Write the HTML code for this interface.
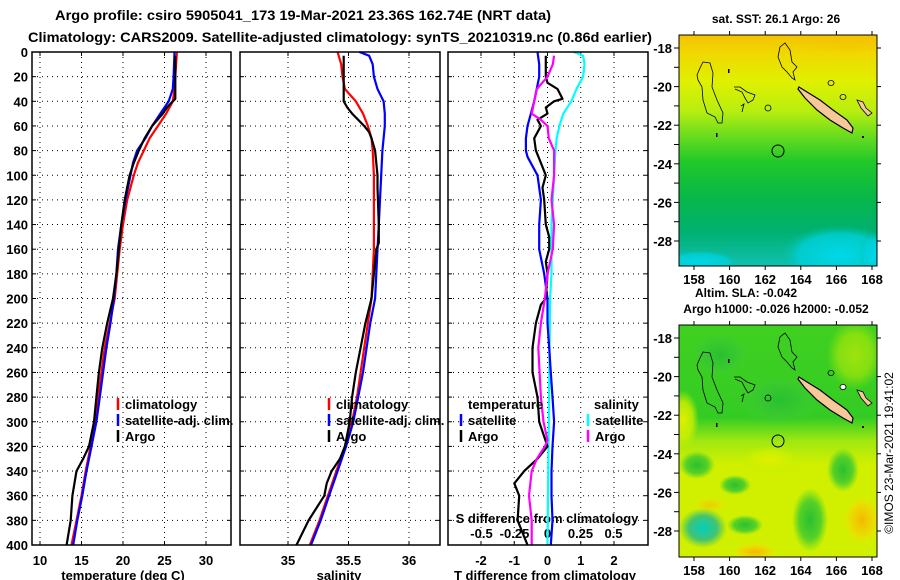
<!DOCTYPE html>
<html><head><meta charset="utf-8">
<style>
html,body{margin:0;padding:0;background:#fff;}
svg{display:block;font-family:"Liberation Sans",sans-serif;font-weight:bold;}
</style></head>
<body>
<svg id="fig" width="900" height="580" viewBox="0 0 900 580" xmlns="http://www.w3.org/2000/svg">
<defs>
  <linearGradient id="sstGrad" x1="0" y1="0" x2="0" y2="1">
    <stop offset="0" stop-color="#f6c200"/>
    <stop offset="0.08" stop-color="#f0d800"/>
    <stop offset="0.2" stop-color="#e0f000"/>
    <stop offset="0.33" stop-color="#b8ee10"/>
    <stop offset="0.45" stop-color="#60da20"/>
    <stop offset="0.55" stop-color="#20c828"/>
    <stop offset="0.7" stop-color="#08b848"/>
    <stop offset="0.85" stop-color="#00b070"/>
    <stop offset="1" stop-color="#10c0b0"/>
  </linearGradient>
  <linearGradient id="slaGrad" x1="0" y1="0" x2="0" y2="1">
    <stop offset="0" stop-color="#40d020"/>
    <stop offset="0.4" stop-color="#34cc24"/>
    <stop offset="0.5" stop-color="#a0e810"/>
    <stop offset="0.6" stop-color="#d0f000"/>
    <stop offset="1" stop-color="#d0f000"/>
  </linearGradient>
  <radialGradient id="cyanBlob"><stop offset="0" stop-color="#00d8e8"/><stop offset="0.7" stop-color="#00d0d8" stop-opacity="0.8"/><stop offset="1" stop-color="#00c0a0" stop-opacity="0"/></radialGradient>
  <radialGradient id="yelBlob"><stop offset="0" stop-color="#e0f000"/><stop offset="0.6" stop-color="#d0f000" stop-opacity="0.8"/><stop offset="1" stop-color="#c0f000" stop-opacity="0"/></radialGradient>
  <radialGradient id="orgBlob"><stop offset="0" stop-color="#f4b800"/><stop offset="0.6" stop-color="#f0d800" stop-opacity="0.8"/><stop offset="1" stop-color="#e0f000" stop-opacity="0"/></radialGradient>
  <radialGradient id="tealBlob"><stop offset="0" stop-color="#00d0c0"/><stop offset="0.6" stop-color="#20b890" stop-opacity="0.8"/><stop offset="1" stop-color="#30c060" stop-opacity="0"/></radialGradient>
  <radialGradient id="dgBlob"><stop offset="0" stop-color="#28c030"/><stop offset="0.6" stop-color="#38c830" stop-opacity="0.8"/><stop offset="1" stop-color="#40d030" stop-opacity="0"/></radialGradient>
  <radialGradient id="yellowTop"><stop offset="0" stop-color="#f4c400"/><stop offset="1" stop-color="#f4c400" stop-opacity="0"/></radialGradient>
</defs>

<text x="55" y="20" font-size="14" textLength="496" lengthAdjust="spacingAndGlyphs">Argo profile: csiro 5905041_173 19-Mar-2021 23.36S 162.74E (NRT data)</text>
<text x="28" y="42" font-size="14" textLength="624" lengthAdjust="spacingAndGlyphs">Climatology: CARS2009. Satellite-adjusted climatology: synTS_20210319.nc (0.86d earlier)</text>

<g id="panels"></g>

<!-- Map 1: SST -->
<text x="776" y="23" font-size="12" text-anchor="middle">sat. SST: 26.1 Argo: 26</text>
<g>
  <svg x="679" y="35" width="198" height="231" viewBox="679 35 198 231" overflow="hidden">
    <rect x="679" y="35" width="198" height="231" fill="url(#sstGrad)"/>
    <ellipse cx="850" cy="38" rx="60" ry="16" fill="url(#yellowTop)"/>
    <ellipse cx="840" cy="255" rx="60" ry="30" fill="url(#cyanBlob)"/>
    <ellipse cx="700" cy="262" rx="40" ry="12" fill="url(#cyanBlob)"/>
    <ellipse cx="875" cy="255" rx="16" ry="22" fill="url(#cyanBlob)"/>
    <g>
      <path d="M703,62 L710,63 L713,73 L712,87 L717,100 L723,113 L722,123 L718,123 L715,117 L707,113 L703,100 L702,87 L698,80 L697,75 L700,68 Z" fill="none" stroke="#000" stroke-width="0.8"/>
      <path d="M734,87 L740,87 L747,92 L755,95 L753,100 L748,103 L745,98 L742,92 L735,89" fill="none" stroke="#000" stroke-width="0.8"/>
      <path d="M741,106 L744,104 L742,112" fill="none" stroke="#000" stroke-width="0.8"/>
      <circle cx="768" cy="108" r="3" fill="none" stroke="#000" stroke-width="0.8"/>
      <path d="M780,47 L785,43 L790,50 L792,62 L797,67 L793,72 L795,80 L792,78 L787,72 L782,67 L778,57 Z" fill="none" stroke="#000" stroke-width="0.8"/>
      <path d="M799,87 L807,92 L820,100 L833,110 L847,120 L853,128 L852,133 L843,128 L830,120 L817,110 L805,98 L798,89 Z" fill="#f8c89a" stroke="#000" stroke-width="1.2"/>
      <ellipse cx="831" cy="83" rx="3" ry="2.5" fill="none" stroke="#000" stroke-width="0.8"/>
      <ellipse cx="843" cy="97" rx="3" ry="2.5" fill="none" stroke="#000" stroke-width="0.8"/>
      <path d="M857,100 L863,102 L866,108 L872,113 L868,116 L861,108 Z" fill="#f8c89a" stroke="#000" stroke-width="0.8"/>
      <rect x="728" y="69" width="1.5" height="4" fill="#000"/>
      <rect x="716" y="133" width="1.5" height="4" fill="#000"/>
      <rect x="862" y="136" width="2" height="2" fill="#000"/>
    </g>
    <circle cx="778" cy="151" r="6" fill="none" stroke="#000" stroke-width="1"/>
  </svg>
  <rect x="679" y="35" width="198" height="231" fill="none" stroke="#000" stroke-width="1"/>
</g>
<g id="map1axes"></g>

<text x="695" y="297" font-size="12">Altim. SLA: -0.042</text>
<text x="776" y="313" font-size="12" text-anchor="middle">Argo h1000: -0.026 h2000: -0.052</text>

<!-- Map 2: SLA -->
<g>
  <svg x="679" y="325" width="198" height="232" viewBox="679 325 198 232" overflow="hidden">
    <rect x="679" y="325" width="198" height="232" fill="url(#slaGrad)"/>
    <ellipse cx="855" cy="355" rx="28" ry="35" fill="url(#yelBlob)" opacity="0.6"/>
    <ellipse cx="683" cy="420" rx="16" ry="30" fill="url(#yelBlob)"/>
    <ellipse cx="720" cy="355" rx="30" ry="22" fill="url(#dgBlob)"/>
    <ellipse cx="780" cy="400" rx="40" ry="25" fill="url(#dgBlob)"/>
    <ellipse cx="697" cy="465" rx="18" ry="14" fill="url(#dgBlob)"/>
    <ellipse cx="735" cy="485" rx="16" ry="10" fill="url(#dgBlob)"/>
    <ellipse cx="745" cy="525" rx="18" ry="10" fill="url(#dgBlob)"/>
    <ellipse cx="810" cy="520" rx="18" ry="32" fill="url(#dgBlob)"/>
    <ellipse cx="843" cy="470" rx="16" ry="22" fill="url(#dgBlob)"/>
    <ellipse cx="770" cy="460" rx="30" ry="14" fill="url(#yelBlob)"/>
    <ellipse cx="862" cy="520" rx="20" ry="26" fill="url(#orgBlob)"/>
    <ellipse cx="755" cy="552" rx="24" ry="10" fill="url(#orgBlob)"/>
    <ellipse cx="710" cy="505" rx="18" ry="8" fill="url(#orgBlob)" opacity="0.6"/>
    <ellipse cx="703" cy="528" rx="24" ry="20" fill="url(#tealBlob)"/>
    <g transform="translate(0,290)">
      <path d="M703,62 L710,63 L713,73 L712,87 L717,100 L723,113 L722,123 L718,123 L715,117 L707,113 L703,100 L702,87 L698,80 L697,75 L700,68 Z" fill="none" stroke="#000" stroke-width="0.8"/>
      <path d="M734,87 L740,87 L747,92 L755,95 L753,100 L748,103 L745,98 L742,92 L735,89" fill="none" stroke="#000" stroke-width="0.8"/>
      <path d="M741,106 L744,104 L742,112" fill="none" stroke="#000" stroke-width="0.8"/>
      <circle cx="768" cy="108" r="3" fill="none" stroke="#000" stroke-width="0.8"/>
      <path d="M780,47 L785,43 L790,50 L792,62 L797,67 L793,72 L795,80 L792,78 L787,72 L782,67 L778,57 Z" fill="none" stroke="#000" stroke-width="0.8"/>
      <path d="M799,87 L807,92 L820,100 L833,110 L847,120 L853,128 L852,133 L843,128 L830,120 L817,110 L805,98 L798,89 Z" fill="#f8c89a" stroke="#000" stroke-width="1.2"/>
      <ellipse cx="831" cy="83" rx="3" ry="2.5" fill="none" stroke="#000" stroke-width="0.8"/>
      <ellipse cx="843" cy="97" rx="3" ry="2.5" fill="#fff" stroke="#000" stroke-width="0.8"/>
      <path d="M857,100 L863,102 L866,108 L872,113 L868,116 L861,108 Z" fill="#f8c89a" stroke="#000" stroke-width="0.8"/>
      <rect x="728" y="69" width="1.5" height="4" fill="#000"/>
      <rect x="716" y="133" width="1.5" height="4" fill="#000"/>
      <rect x="862" y="136" width="2" height="2" fill="#000"/>
    </g>
    <circle cx="778" cy="441" r="6" fill="none" stroke="#000" stroke-width="1"/>
  </svg>
  <rect x="679" y="325" width="198" height="232" fill="none" stroke="#000" stroke-width="1"/>
</g>
<g id="map2axes"></g>

<text transform="translate(893,453) rotate(-90)" font-size="12" font-weight="normal" text-anchor="middle">©IMOS 23-Mar-2021 19:41:02</text>

<script>
// ---------------- data ----------------
const depthTicks = [0,20,40,60,80,100,120,140,160,180,200,220,240,260,280,300,320,340,360,380,400];
const tempTicks = [10,15,20,25,30];
const salTicks = [35,35.5,36];
const salTickLabels = ["35","35.5","36"];
const tdiffTicks = [-2,-1,0,1,2];
const sdiffTicks = [-0.5,-0.25,0,0.25,0.5];
const sdiffTickLabels = ["-0.5","-0.25","0","0.25","0.5"];

const tClimDepth = [0,10,20,30,40,50,60,70,80,90,100,120,140,160,180,200,220,240,260,280,300,320,340,360,380,400];
const tClim = [26.5,26.4,26.3,26.2,26.0,25.2,24.2,23.2,22.5,21.8,21.3,20.5,20.0,19.6,19.3,19.0,18.4,17.8,17.4,17.0,16.6,16.1,15.5,15.0,14.4,13.8];
const tSatDepth = [0,20,30,40,50,60,70,80,90,100,120,140,160,180,200,220,240,260,280,300,320,340,360,380,400];
const tSat = [26.2,26.1,26.0,25.5,24.5,23.5,22.7,21.7,21.2,20.9,20.3,19.8,19.4,19.2,18.9,18.5,18.0,17.6,17.2,16.8,16.2,15.6,15.1,14.5,14.0];
const tArgoDepth = [3,20,38,40,45,50,60,70,80,90,100,120,140,160,180,200,220,240,260,280,300,320,330,340,360,380,400];
const tArgo = [26.3,26.3,26.3,26.0,25.3,24.8,23.5,22.6,21.9,21.3,20.8,20.2,19.8,19.5,19.2,18.8,18.1,17.5,17.1,16.8,16.5,15.9,15.2,14.4,13.9,13.7,13.2];

const sClimDepth = [0,10,20,30,40,50,60,70,80,100,160,180,200,220,240,260,280,300,320,340,360,380,400];
const sClim = [35.41,35.44,35.45,35.47,35.56,35.62,35.66,35.69,35.70,35.71,35.71,35.70,35.69,35.66,35.63,35.60,35.57,35.53,35.47,35.40,35.33,35.26,35.18];
const sSatDepth = [0,3,10,20,30,40,50,60,70,80,100,120,140,160,180,200,220,240,260,280,300,320,340,360,380,400];
const sSat = [35.59,35.67,35.70,35.71,35.74,35.79,35.80,35.80,35.79,35.78,35.77,35.76,35.75,35.74,35.73,35.72,35.68,35.65,35.62,35.58,35.54,35.48,35.41,35.34,35.27,35.19];
const sArgoDepth = [3,40,45,50,55,60,65,70,80,90,100,110,140,155,160,180,200,220,230,240,260,280,300,320,330,340,350,360,380,400];
const sArgo = [35.46,35.46,35.49,35.53,35.58,35.63,35.67,35.69,35.72,35.73,35.74,35.74,35.75,35.75,35.73,35.71,35.69,35.64,35.62,35.60,35.56,35.53,35.51,35.47,35.43,35.36,35.32,35.30,35.17,35.07];

const dTSatDepth = [0,10,20,40,50,60,70,80,85,100,110,120,140,160,180,200,220,240,260,280,300,320,340,360,380,400];
const dTSat = [-0.3,-0.25,-0.25,-0.4,-0.5,-0.6,-0.65,-0.65,-0.6,-0.3,-0.25,-0.2,-0.25,-0.25,-0.1,0,0,0.05,0.1,0.15,0.2,0.15,0.12,0.12,0.15,0.1];
const dTArgoDepth = [3,20,25,30,38,40,45,50,55,60,70,80,90,100,110,120,140,150,160,170,180,200,205,220,240,260,280,300,320,330,340,350,360,380,400];
const dTArgo = [-0.05,-0.05,0,0.3,0.45,0.2,-0.05,0,-0.3,-0.2,-0.4,-0.35,-0.2,-0.05,-0.15,-0.1,-0.05,0.05,0.05,-0.05,0,-0.05,-0.2,-0.35,-0.45,-0.45,-0.3,-0.25,0,-0.3,-0.7,-1.0,-0.85,-0.9,-0.6];
const dSSatDepth = [0,3,10,20,30,40,50,60,70,80,100,120,140,180,200,300,400];
const dSSat = [0.2,0.27,0.28,0.27,0.22,0.18,0.12,0.09,0.07,0.06,0.05,0.04,0.03,0.03,0.02,0.01,0.0];
const dSArgoDepth = [3,10,20,30,40,50,55,60,70,80,100,120,140,160,180,200,220,240,260,280,300,315,320,330,340,360,380,400];
const dSArgo = [0.05,0.04,0.0,-0.08,-0.1,-0.12,-0.05,0.0,0.01,0.05,0.05,0.03,0.05,0.04,0.0,-0.02,-0.05,-0.07,-0.06,-0.05,-0.03,0.0,-0.02,-0.08,-0.12,-0.14,-0.12,-0.12];

// ---------------- scales ----------------
const NS = "http://www.w3.org/2000/svg";
const Y0 = 52, Y1 = 545;
function yD(d){ return Y0 + d*(Y1-Y0)/400; }
function xT(t){ return 40 + (t-10)*(206-40)/20; }
function xS(s){ return 288 + (s-35)*(409-288)/1; }
function xDT(t){ return 547.5 + t*(614-481)/4; }
function xDS(s){ return 547.5 + s*132; }
function el(tag, attrs, parent){ const e=document.createElementNS(NS,tag); for(const k in attrs) e.setAttribute(k,attrs[k]); parent.appendChild(e); return e; }

const root = document.getElementById('panels');
const panels = [[32,231],[240,440],[448,648]];

const gridXs = [tempTicks.map(xT), salTicks.map(xS), tdiffTicks.map(xDT)];
panels.forEach((p,i)=>{
  const g = el('g',{},root);
  
  
  depthTicks.forEach(d=>{
    if(d>0 && d<400) el('line',{x1:p[0],x2:p[1],y1:yD(d),y2:yD(d),stroke:'#000','stroke-width':1,'stroke-dasharray':'1,4'},g);
    el('line',{x1:p[0],x2:p[0]+4,y1:yD(d),y2:yD(d),stroke:'#000'},g);
    el('line',{x1:p[1]-4,x2:p[1],y1:yD(d),y2:yD(d),stroke:'#000'},g);
  });
  gridXs[i].forEach(x=>{
    el('line',{x1:x,x2:x,y1:Y0,y2:Y1,stroke:'#000','stroke-width':1,'stroke-dasharray':'1,4'},g);
    el('line',{x1:x,x2:x,y1:Y1-4,y2:Y1,stroke:'#000'},g);
    el('line',{x1:x,x2:x,y1:Y0,y2:Y0+4,stroke:'#000'},g);
  });
});

const yl = el('g',{},root);


depthTicks.forEach(d=>{
  const t = el('text',{x:28,y:yD(d)+5,'font-size':13,'text-anchor':'end'},yl);
  t.textContent = d;
});

function xLabels(vals, labels, f, y, name){
  const g = el('g',{},root);
  
  
  vals.forEach((v,i)=>{ const t=el('text',{x:f(v),y:y,'font-size':13,'text-anchor':'middle'},g); t.textContent=labels[i]; });
}
xLabels(tempTicks, tempTicks.map(String), xT, 565, 'temperature-x-ticks');
xLabels(salTicks, salTickLabels, xS, 565, 'salinity-x-ticks');
xLabels(tdiffTicks, tdiffTicks.map(String), xDT, 565, 'tdiff-x-ticks');
xLabels(sdiffTicks, sdiffTickLabels, xDS, 538, 'sdiff-x-ticks');

function title(x,y,txt,name){ const t=el('text',{x:x,y:y,'font-size':13,'text-anchor':'middle'},root); t.textContent=txt;   }
title(123,580,'temperature (deg C)','temperature-axis-title');
title(339,580,'salinity','salinity-axis-title');
title(545,580,'T difference from climatology','tdiff-axis-title');
title(547,523,'S difference from climatology','sdiff-axis-title');

function line(depths, vals, f, color, name){
  const pts = depths.map((d,i)=> f(vals[i]).toFixed(1)+','+yD(d).toFixed(1)).join(' ');
  const pl = el('polyline',{points:pts,fill:'none',stroke:color,'stroke-width':2.2,'stroke-linejoin':'round'},root);
  
  
}
line(tClimDepth,tClim,xT,'#f00','temp-climatology-line');
line(tSatDepth,tSat,xT,'#00f','temp-satellite-line');
line(tArgoDepth,tArgo,xT,'#000','temp-argo-line');
line(sClimDepth,sClim,xS,'#f00','sal-climatology-line');
line(sSatDepth,sSat,xS,'#00f','sal-satellite-line');
line(sArgoDepth,sArgo,xS,'#000','sal-argo-line');
line(dSSatDepth,dSSat,xDS,'#0ff','sdiff-satellite-line');
line(dTSatDepth,dTSat,xDT,'#00f','tdiff-satellite-line');
line(dTArgoDepth,dTArgo,xDT,'#000','tdiff-argo-line');
line(dSArgoDepth,dSArgo,xDS,'#f0f','sdiff-argo-line');

panels.forEach((p,i)=>{
  const r = el('rect',{x:p[0],y:Y0,width:p[1]-p[0],height:Y1-Y0,fill:'none',stroke:'#000','stroke-width':1.5},root);
  
  
});

function legendItem(x,y,color,txt,name){
  const g = el('g',{},root);
  
  
  if(color) el('line',{x1:x,x2:x,y1:y-6,y2:y+6,stroke:color,'stroke-width':2.5},g);
  const t = el('text',{x:x+7,y:y+5,'font-size':13},g); t.textContent=txt;
}
legendItem(118,404,'#f00','climatology','legend-climatology');
legendItem(118,420,'#00f','satellite-adj. clim.','legend-satellite-adj');
legendItem(118,436,'#000','Argo','legend-argo');
legendItem(329,404,'#f00','climatology','legend2-climatology');
legendItem(329,420,'#00f','satellite-adj. clim.','legend2-satellite-adj');
legendItem(329,436,'#000','Argo','legend2-argo');
legendItem(461,404,null,'temperature','legend-temperature-header');
legendItem(461,420,'#00f','satellite','legend-temp-satellite');
legendItem(461,436,'#000','Argo','legend-temp-argo');
legendItem(587,404,null,'salinity','legend-salinity-header');
legendItem(588,420,'#0ff','satellite','legend-sal-satellite');
legendItem(588,436,'#f0f','Argo','legend-sal-argo');

// ---------------- map axes ----------------
const mapLons = [158,160,162,164,166,168];
const mapLats = [-18,-20,-22,-24,-26,-28];
function lonX(l){ return 694 + (l-158)*17.8; }
function latY(l, top){ return top + (-18 - l)*19.3; }
function mapAxes(id, top, boxTop, boxBot){
  const g = document.getElementById(id);
  
  
  mapLats.forEach(l=>{
    const y = latY(l, top);
    el('line',{x1:674,x2:679,y1:y,y2:y,stroke:'#000'},g);
    el('line',{x1:877,x2:881,y1:y,y2:y,stroke:'#000'},g);
    const t = el('text',{x:672,y:y+5,'font-size':13,'text-anchor':'end'},g); t.textContent=l;
  });
  mapLats.slice(0,5).forEach(l=>{
    const y = latY(l-1, top);
    el('line',{x1:674,x2:679,y1:y,y2:y,stroke:'#000'},g);
  });
  mapLons.forEach(l=>{
    const x = lonX(l);
    el('line',{x1:x,x2:x,y1:boxTop-4,y2:boxTop,stroke:'#000'},g);
    el('line',{x1:x,x2:x,y1:boxBot,y2:boxBot+4,stroke:'#000'},g);
    const t = el('text',{x:x,y:boxBot+18,'font-size':13,'text-anchor':'middle'},g); t.textContent=l;
  });
}
mapAxes('map1axes', 48, 35, 266);
mapAxes('map2axes', 338, 325, 557);
</script>
</svg>
</body></html>
